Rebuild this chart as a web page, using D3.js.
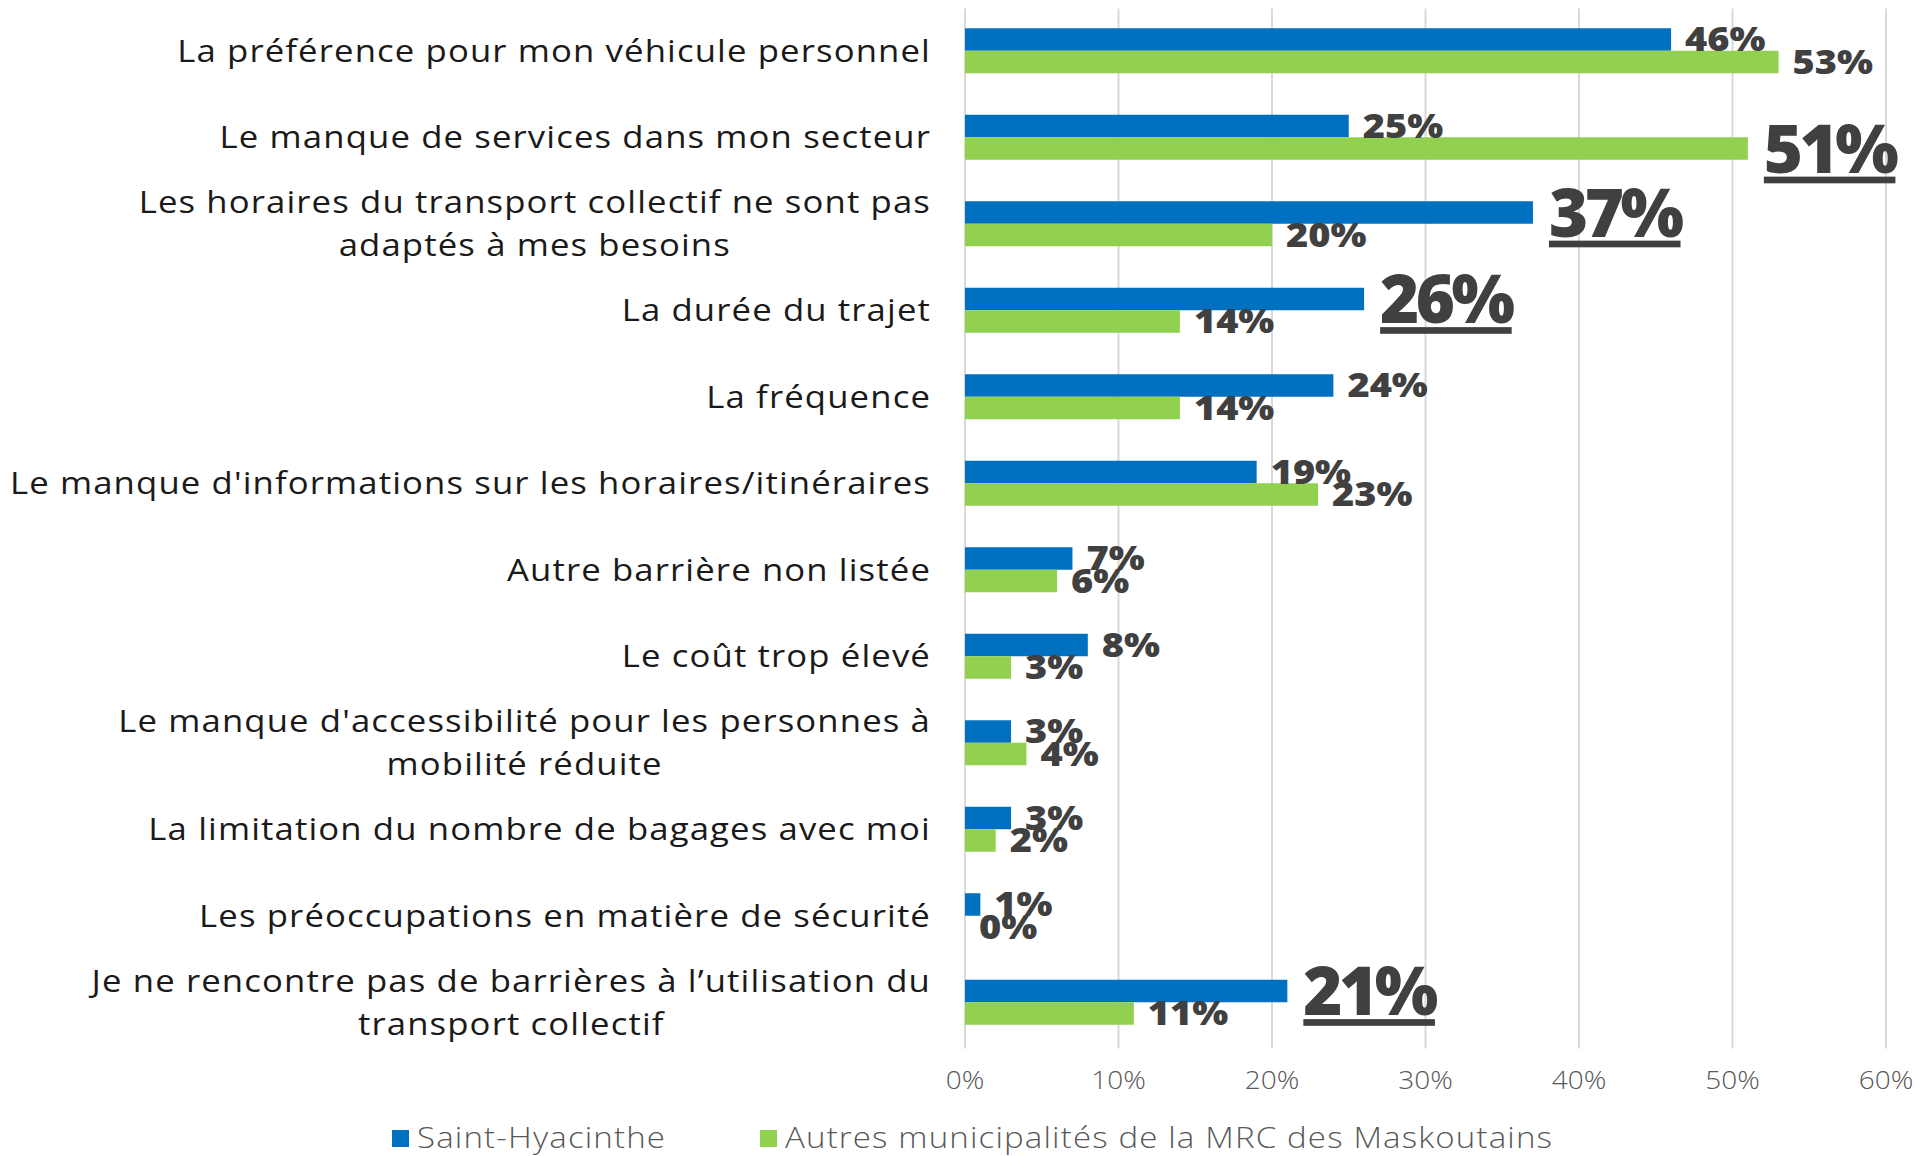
<!DOCTYPE html>
<html>
<head>
<meta charset="utf-8">
<script src="https://cdn.jsdelivr.net/npm/d3@7"></script>
<style>
  body { margin: 0; background: #fff; }
  svg { display: block; }
</style>
</head>
<body>
<div class="chart"></div>
<script>
// categories, top to bottom (multi-line labels split on "|")
var categories = [
  "La préférence pour mon véhicule personnel",
  "Le manque de services dans mon secteur",
  "Les horaires du transport collectif ne sont pas|adaptés à mes besoins",
  "La durée du trajet",
  "La fréquence",
  "Le manque d'informations sur les horaires/itinéraires",
  "Autre barrière non listée",
  "Le coût trop élevé",
  "Le manque d'accessibilité pour les personnes à|mobilité réduite",
  "La limitation du nombre de bagages avec moi",
  "Les préoccupations en matière de sécurité",
  "Je ne rencontre pas de barrières à l’utilisation du|transport collectif"
];

var seriesNames = ["Saint-Hyacinthe", "Autres municipalités de la MRC des Maskoutains"];

var stHyacinthe = [0.46, 0.25, 0.37, 0.26, 0.24, 0.19, 0.07, 0.08, 0.03, 0.03, 0.01, 0.21];
var autres      = [0.53, 0.51, 0.20, 0.14, 0.14, 0.23, 0.06, 0.03, 0.04, 0.02, 0.00, 0.11];

// which labels are highlighted (big + underlined)
var highlightSt     = [false, false, true, true, false, false, false, false, false, false, false, true];
var highlightAutres = [false, true, false, false, false, false, false, false, false, false, false, false];

var ticks = [0, 0.1, 0.2, 0.3, 0.4, 0.5, 0.6];

var colors = ["#0070C0", "#92D050"];

var W = 1923, H = 1156;
var plotLeft = 965, plotRight = 1886, plotTop = 7.5, plotBottom = 1045.5;
var font = "'Open Sans', sans-serif";

var svg = d3.select(".chart").append("svg")
    .attr("width", W)
    .attr("height", H);

var x = d3.scaleLinear().domain([0, 0.6]).range([plotLeft, plotRight]);

var y = d3.scaleBand().domain(d3.range(categories.length)).range([plotTop, plotBottom]);

var barH = 22.5;
var inner = d3.scaleBand().domain([0, 1])
    .range([y.bandwidth() / 2 - barH, y.bandwidth() / 2 + barH]);

var pct = d3.format(".0%");

// gridlines
svg.append("g").selectAll("line")
    .data(ticks)
  .enter().append("line")
    .attr("x1", function(d){ return x(d); })
    .attr("x2", function(d){ return x(d); })
    .attr("y1", plotTop + 1)
    .attr("y2", plotBottom + 3)
    .attr("stroke", "#d9d9d9")
    .attr("stroke-width", 2);

// tick labels
svg.append("g").selectAll("text")
    .data(ticks)
  .enter().append("text")
    .attr("transform", function(d){ return "translate(" + x(d) + ",1080) scale(1.12,1)"; })
    .attr("dy", "0.35em")
    .attr("text-anchor", "middle")
    .style("font-family", font)
    .style("font-weight", 300)
    .style("font-size", "25px")
    .attr("fill", "#595959")
    .text(function(d){ return pct(d); });

var rows = categories.map(function(c, i){
  return {i: i, vals: [
    {s: 0, v: stHyacinthe[i], hi: highlightSt[i]},
    {s: 1, v: autres[i], hi: highlightAutres[i]}
  ]};
});

var groups = svg.append("g").selectAll("g")
    .data(rows)
  .enter().append("g")
    .attr("transform", function(d){ return "translate(0," + y(d.i) + ")"; });

groups.selectAll("rect")
    .data(function(d){ return d.vals; })
  .enter().append("rect")
    .attr("x", x(0))
    .attr("y", function(d){ return inner(d.s); })
    .attr("width", function(d){ return x(d.v) - x(0); })
    .attr("height", inner.bandwidth())
    .attr("fill", function(d){ return colors[d.s]; });

groups.selectAll("text.val")
    .data(function(d){ return d.vals; })
  .enter().append("text")
    .attr("class", "val")
    .attr("transform", function(d){
      var tx = x(d.v) + (d.hi ? 16 : 14),
          ty = inner(d.s) + inner.bandwidth() / 2;
      return "translate(" + tx + "," + ty + ") scale(" + (d.hi ? 1 : 1.15) + ",1)";
    })
    .attr("dy", "0.36em")
    .style("font-family", font)
    .style("font-weight", 800)
    .style("font-size", function(d){ return d.hi ? "67px" : "33px"; })
    .style("letter-spacing", function(d){ return d.hi ? "-3.5px" : "0px"; })
    .style("text-decoration", function(d){ return d.hi ? "underline" : "none"; })
    .attr("fill", "#404040")
    .text(function(d){ return pct(d.v); });

// category labels: right aligned block, lines centred inside it
var labelRight = 931, lineH = 43, labelScale = 1.12;
groups.each(function(d){
  var g = d3.select(this).append("g")
      .attr("transform", "translate(" + labelRight + ",0) scale(" + labelScale + ",1)");
  var lines = categories[d.i].split("|");
  var t = g.append("text")
      .style("font-family", font)
      .style("font-size", "31px")
      .style("letter-spacing", "1px")
      .attr("fill", "#1a1a1a")
      .attr("text-anchor", "middle");
  var spans = lines.map(function(l, k){
    return t.append("tspan")
        .attr("y", y.bandwidth() / 2 + (k - (lines.length - 1) / 2) * lineH)
        .attr("dy", "0.36em")
        .text(l);
  });
  var wMax = d3.max(spans, function(s){ return s.node().getComputedTextLength(); });
  spans.forEach(function(s){ s.attr("x", -wMax / 2); });
});

// legend
var legend = svg.append("g").selectAll("g")
    .data(seriesNames)
  .enter().append("g")
    .attr("transform", function(d, i){ return "translate(" + [392, 760][i] + ",1138)"; });

legend.append("rect")
    .attr("x", 0)
    .attr("y", -8)
    .attr("width", 17)
    .attr("height", 17)
    .attr("fill", function(d, i){ return colors[i]; });

legend.append("text")
    .attr("transform", "translate(25,0) scale(1.14,1)")
    .attr("dy", "0.36em")
    .style("font-family", font)
    .style("font-weight", 300)
    .style("font-size", "29px")
    .style("letter-spacing", "1px")
    .attr("fill", "#595959")
    .text(function(d){ return d; });
</script>
</body>
</html>
